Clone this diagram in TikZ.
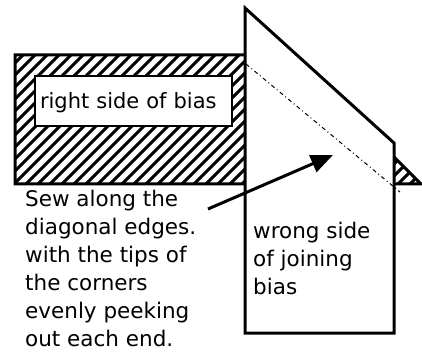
\documentclass[tikz,border=0pt]{standalone}
\usepackage{fontspec}
\setmainfont{DejaVu Sans}
\usetikzlibrary{arrows.meta}

\tikzset{
  outline/.style={draw=black, line width=3pt, line join=miter},
  hatchline/.style={line width=3pt},
  sewline/.style={line width=1pt, dash pattern=on 4pt off 3pt on 1pt off 3pt},
  textnote/.style={font=\fontsize{21.5}{28}\selectfont, align=left, inner sep=0pt, anchor=north west},
}

\begin{document}
\begin{tikzpicture}[x=1pt, y=-1pt]
    \useasboundingbox (0,0) rectangle (422,352);

    % hatched bias strip
    \begin{scope}
      \clip (15,55) -- (292,55) -- (421,184) -- (15,184) -- cycle;
      \foreach \x in {-130,-118,...,430}
        \draw[hatchline] (\x,184) -- ++(129,-129);
    \end{scope}
    \draw[outline] (15,55) -- (292,55) -- (421,184) -- (15,184) -- cycle;
    \node (rightside) [draw, line width=2.5pt, fill=white, font=\fontsize{21}{28}\selectfont,
      text width=187pt, inner xsep=5pt, minimum height=50pt, text height=16pt, text depth=0pt,
      align=left] at (133.5,101) {right side of bias};

    % joining bias on top
    \draw[outline, fill=white] (245,8) -- (394,143) -- (394,333) -- (245,333) -- cycle;
    \coordinate (seamstart) at (246,64);
    \coordinate (seamend) at (400,192);
    \draw[sewline] (seamstart) -- (seamend);

    \node (wrongside) [textnote] at (253,222) {wrong side\\of joining\\bias};
    \node (sewnote) [textnote] at (25,190) {Sew along the\\diagonal edges.\\with the tips of\\the corners\\evenly peeking\\out each end.};

    \coordinate (arrowtail) at (208,209);
    \coordinate (arrowtip) at (333,155);
    \draw[-{Triangle[length=22pt, width=18pt]}, line width=3pt] (arrowtail) -- (arrowtip);
\end{tikzpicture}
\end{document}
